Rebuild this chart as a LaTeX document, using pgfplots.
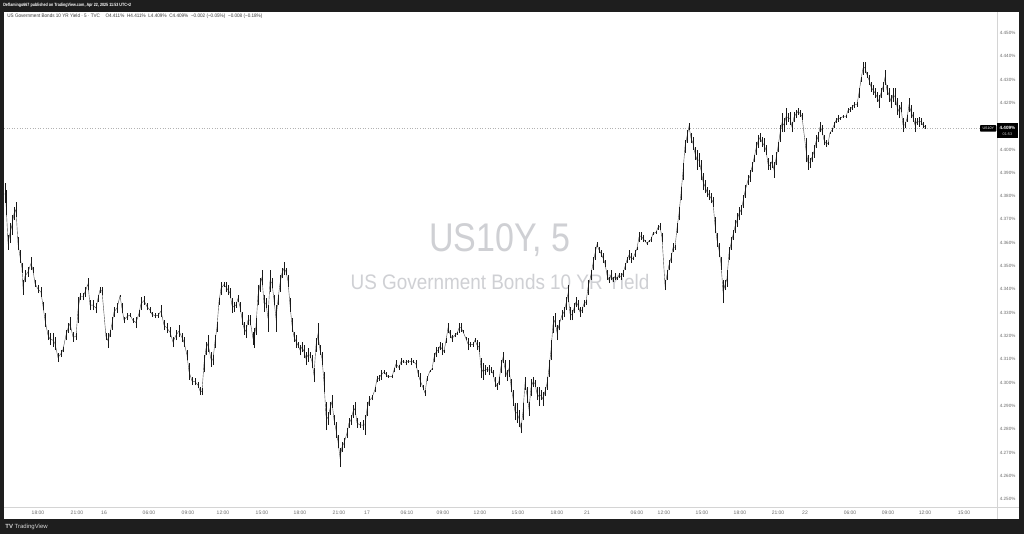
\documentclass[border=0pt]{standalone}
\usepackage{fontspec}
\setmainfont{Liberation Sans}
\usepackage{pgfplots}
\pgfplotsset{compat=1.18}
\usepackage{pgfplotstable}
\definecolor{frame}{HTML}{1E1E1E}
\definecolor{wm}{HTML}{CFD0D4}
\definecolor{axline}{HTML}{D4D4D4}
\definecolor{lbl}{HTML}{6A6A6A}
\definecolor{legtxt}{HTML}{3A3A3A}

% 5-minute bars, x = bar position on the compressed time scale, lo/high in %
\pgfplotstableread{
x lo hi
5 4.3770 4.3856
6 4.3719 4.3826
8 4.3569 4.3633
10 4.3598 4.3684
12 4.3633 4.3719
14 4.3697 4.3753
16 4.3710 4.3775
18 4.3569 4.3624
20 4.3513 4.3569
22 4.3470 4.3513
23 4.3376 4.3440
25 4.3431 4.3483
28 4.3453 4.3496
31 4.3483 4.3539
33 4.3470 4.3496
35 4.3410 4.3440
38 4.3384 4.3418
41 4.3367 4.3410
43 4.3311 4.3346
45 4.3238 4.3298
48 4.3182 4.3225
50 4.3161 4.3212
53 4.3152 4.3212
55 4.3139 4.3195
58 4.3088 4.3127
61 4.3109 4.3139
63 4.3131 4.3152
66 4.3182 4.3225
68 4.3212 4.3255
70 4.3225 4.3281
73 4.3174 4.3217
76 4.3182 4.3212
78 4.3255 4.3367
80 4.3354 4.3384
83 4.3354 4.3384
85 4.3367 4.3410
88 4.3397 4.3449
90 4.3311 4.3354
93 4.3311 4.3354
96 4.3298 4.3341
98 4.3346 4.3376
100 4.3384 4.3410
102 4.3376 4.3410
106 4.3182 4.3212
108 4.3148 4.3212
110 4.3195 4.3225
112 4.3225 4.3281
114 4.3281 4.3324
117 4.3298 4.3341
120 4.3367 4.3376
122 4.3298 4.3341
124 4.3255 4.3281
127 4.3268 4.3298
130 4.3281 4.3298
133 4.3255 4.3277
136 4.3234 4.3281
139 4.3281 4.3311
141 4.3311 4.3367
144 4.3333 4.3371
147 4.3311 4.3341
150 4.3298 4.3324
152 4.3281 4.3303
155 4.3277 4.3298
158 4.3277 4.3298
161 4.3281 4.3333
164 4.3225 4.3268
167 4.3212 4.3255
170 4.3195 4.3238
173 4.3152 4.3195
176 4.3182 4.3225
179 4.3195 4.3247
182 4.3174 4.3212
184 4.3152 4.3195
187 4.3097 4.3139
189 4.3011 4.3084
192 4.2989 4.3024
195 4.2989 4.3019
198 4.2976 4.3002
200 4.2946 4.2981
202 4.2946 4.2976
204 4.3045 4.3118
206 4.3118 4.3174
208 4.3131 4.3204
211 4.3067 4.3131
213 4.3075 4.3118
215 4.3148 4.3204
217 4.3217 4.3260
219 4.3333 4.3363
221 4.3376 4.3431
224 4.3410 4.3431
226 4.3388 4.3431
228 4.3376 4.3418
230 4.3363 4.3406
232 4.3298 4.3363
234 4.3303 4.3346
236 4.3320 4.3346
238 4.3346 4.3376
240 4.3303 4.3346
242 4.3247 4.3303
244 4.3204 4.3260
246 4.3191 4.3247
248 4.3247 4.3290
250 4.3247 4.3290
253 4.3161 4.3217
254 4.3148 4.3234
256 4.3204 4.3277
258 4.3333 4.3418
260 4.3389 4.3449
262 4.3418 4.3483
264 4.3303 4.3376
266 4.3320 4.3363
268 4.3217 4.3333
270 4.3389 4.3483
272 4.3406 4.3449
274 4.3333 4.3376
276 4.3217 4.3333
278 4.3333 4.3376
280 4.3389 4.3461
282 4.3449 4.3491
284 4.3461 4.3517
286 4.3461 4.3491
288 4.3410 4.3461
290 4.3303 4.3363
292 4.3217 4.3277
294 4.3174 4.3217
296 4.3148 4.3204
298 4.3148 4.3174
300 4.3118 4.3161
302 4.3131 4.3174
304 4.3105 4.3161
306 4.3075 4.3131
308 4.3088 4.3148
310 4.3105 4.3131
312 4.3062 4.3118
314 4.3002 4.3062
316 4.3131 4.3191
318 4.3161 4.3255
320 4.3118 4.3161
322 4.3075 4.3131
324 4.2959 4.3045
326 4.2796 4.2916
328 4.2818 4.2873
330 4.2861 4.2916
332 4.2891 4.2946
334 4.2818 4.2861
336 4.2762 4.2831
338 4.2719 4.2775
340 4.2637 4.2719
342 4.2702 4.2745
344 4.2719 4.2762
347 4.2762 4.2805
349 4.2805 4.2848
351 4.2818 4.2861
353 4.2848 4.2903
355 4.2861 4.2916
357 4.2805 4.2848
360 4.2805 4.2831
363 4.2796 4.2839
365 4.2775 4.2861
367 4.2856 4.2916
369 4.2899 4.2942
372 4.2925 4.2946
375 4.2959 4.2981
377 4.3002 4.3028
379 4.3006 4.3032
381 4.3011 4.3054
384 4.3037 4.3054
386 4.3024 4.3045
388 4.3019 4.3032
392 4.3019 4.3032
394 4.3045 4.3062
396 4.3062 4.3097
399 4.3054 4.3075
401 4.3075 4.3105
403 4.3084 4.3097
406 4.3075 4.3097
408 4.3084 4.3097
411 4.3075 4.3105
413 4.3084 4.3097
416 4.3062 4.3097
418 4.3024 4.3054
420 4.2981 4.3041
423 4.2968 4.2989
425 4.2942 4.2968
427 4.3006 4.3028
430 4.3045 4.3054
432 4.3054 4.3062
434 4.3088 4.3127
436 4.3109 4.3152
438 4.3127 4.3152
440 4.3139 4.3174
442 4.3118 4.3170
444 4.3127 4.3139
446 4.3170 4.3191
448 4.3212 4.3255
450 4.3191 4.3225
452 4.3174 4.3204
455 4.3195 4.3212
457 4.3204 4.3217
459 4.3212 4.3255
461 4.3217 4.3255
463 4.3212 4.3225
466 4.3182 4.3195
468 4.3139 4.3191
470 4.3152 4.3174
473 4.3152 4.3174
475 4.3174 4.3191
477 4.3139 4.3182
479 4.3131 4.3174
481 4.3019 4.3105
483 4.3011 4.3084
485 4.3032 4.3075
487 4.3045 4.3067
489 4.3032 4.3075
491 4.3041 4.3067
493 4.3024 4.3054
495 4.2981 4.3024
497 4.2968 4.2998
499 4.2989 4.3024
501 4.3041 4.3097
503 4.3084 4.3131
505 4.3024 4.3097
507 4.3006 4.3054
509 4.3024 4.3097
511 4.2959 4.3015
513 4.2899 4.2968
515 4.2839 4.2912
517 4.2826 4.2912
519 4.2809 4.2882
521 4.2783 4.2826
523 4.2839 4.2912
525 4.2968 4.3024
527 4.2912 4.2981
529 4.2856 4.2916
531 4.2942 4.3015
533 4.2981 4.3024
535 4.2981 4.3011
537 4.2925 4.2981
539 4.2899 4.2981
541 4.2925 4.2968
543 4.2899 4.2959
545 4.2942 4.2981
547 4.2968 4.3024
549 4.3024 4.3097
551 4.3097 4.3182
553 4.3212 4.3285
555 4.3238 4.3298
557 4.3182 4.3247
559 4.3225 4.3268
562 4.3268 4.3311
564 4.3281 4.3324
566 4.3311 4.3367
568 4.3346 4.3418
570 4.3268 4.3324
572 4.3268 4.3311
574 4.3298 4.3341
576 4.3324 4.3367
578 4.3311 4.3354
580 4.3281 4.3324
582 4.3298 4.3324
584 4.3324 4.3354
586 4.3333 4.3354
588 4.3376 4.3440
591 4.3440 4.3483
593 4.3483 4.3539
595 4.3526 4.3582
597 4.3582 4.3603
599 4.3556 4.3582
601 4.3539 4.3569
603 4.3513 4.3556
605 4.3496 4.3526
607 4.3440 4.3483
609 4.3427 4.3453
611 4.3440 4.3483
613 4.3431 4.3453
615 4.3440 4.3470
617 4.3440 4.3453
619 4.3449 4.3470
621 4.3440 4.3470
623 4.3453 4.3483
625 4.3483 4.3513
627 4.3513 4.3539
629 4.3526 4.3569
631 4.3513 4.3556
633 4.3526 4.3539
635 4.3539 4.3569
637 4.3569 4.3582
639 4.3603 4.3646
641 4.3612 4.3646
643 4.3603 4.3633
645 4.3603 4.3612
647 4.3590 4.3603
649 4.3603 4.3612
651 4.3603 4.3624
653 4.3633 4.3646
656 4.3638 4.3650
658 4.3655 4.3676
660 4.3655 4.3684
662 4.3603 4.3642
665 4.3397 4.3440
667 4.3440 4.3483
669 4.3483 4.3526
671 4.3513 4.3556
673 4.3560 4.3599
675 4.3569 4.3590
677 4.3642 4.3684
679 4.3697 4.3753
681 4.3783 4.3839
683 4.3869 4.3942
685 4.3985 4.4041
687 4.4028 4.4084
689 4.4084 4.4114
691 4.4028 4.4071
693 4.3998 4.4054
695 4.3955 4.4011
697 4.3912 4.3998
699 4.3925 4.3985
701 4.3869 4.3955
703 4.3826 4.3899
705 4.3813 4.3869
707 4.3796 4.3839
709 4.3783 4.3826
711 4.3770 4.3813
713 4.3753 4.3796
715 4.3642 4.3710
717 4.3582 4.3642
719 4.3539 4.3599
721 4.3483 4.3539
723 4.3341 4.3440
725 4.3397 4.3440
727 4.3410 4.3483
729 4.3526 4.3582
731 4.3569 4.3624
733 4.3612 4.3655
735 4.3642 4.3697
737 4.3667 4.3727
739 4.3697 4.3753
741 4.3719 4.3762
743 4.3749 4.3805
745 4.3792 4.3848
748 4.3848 4.3891
750 4.3861 4.3912
752 4.3904 4.3947
754 4.3947 4.3976
756 4.3976 4.4032
758 4.4006 4.4062
760 4.4032 4.4071
762 4.4011 4.4054
764 4.3989 4.4049
766 4.3976 4.4019
768 4.3912 4.3964
770 4.3912 4.3947
772 4.3921 4.3976
774 4.3878 4.3947
776 4.3933 4.3989
778 4.3989 4.4032
780 4.4032 4.4105
782 4.4075 4.4157
784 4.4075 4.4135
786 4.4105 4.4178
788 4.4118 4.4157
790 4.4105 4.4161
792 4.4075 4.4118
794 4.4118 4.4161
796 4.4135 4.4170
798 4.4148 4.4178
800 4.4140 4.4170
802 4.4127 4.4157
806 4.3946 4.4049
808 4.3912 4.3976
810 4.3921 4.3964
812 4.3946 4.3989
814 4.3964 4.4019
816 4.4006 4.4062
818 4.4032 4.4075
820 4.4075 4.4118
822 4.4062 4.4105
824 4.4019 4.4062
826 4.4011 4.4041
828 4.4019 4.4032
830 4.4067 4.4075
832 4.4075 4.4092
834 4.4092 4.4118
836 4.4114 4.4135
838 4.4118 4.4148
840 4.4127 4.4140
843 4.4135 4.4148
846 4.4135 4.4148
848 4.4157 4.4178
850 4.4161 4.4183
852 4.4170 4.4191
854 4.4178 4.4204
857 4.4183 4.4204
859 4.4221 4.4264
861 4.4290 4.4311
863 4.4320 4.4376
865 4.4328 4.4376
867 4.4307 4.4333
869 4.4277 4.4320
871 4.4247 4.4290
873 4.4234 4.4277
875 4.4221 4.4264
877 4.4204 4.4247
879 4.4178 4.4234
881 4.4221 4.4264
883 4.4247 4.4290
885 4.4277 4.4341
887 4.4234 4.4277
889 4.4204 4.4264
891 4.4178 4.4234
893 4.4204 4.4264
895 4.4191 4.4264
897 4.4148 4.4221
899 4.4135 4.4191
901 4.4161 4.4204
903 4.4075 4.4135
905 4.4092 4.4118
907 4.4118 4.4148
909 4.4161 4.4221
911 4.4135 4.4191
913 4.4118 4.4161
915 4.4075 4.4135
917 4.4105 4.4135
919 4.4097 4.4140
921 4.4105 4.4135
923 4.4092 4.4118
925 4.4088 4.4105
}\bars

\begin{document}
\begin{tikzpicture}
% frame and panel
\fill[frame] (0,0) rectangle (512pt,267pt);
\fill[white] (2pt,7.5pt) rectangle (509.5pt,261pt);
\node[anchor=west, inner sep=0, text=white, font=\fontsize{2.3}{2.6}\selectfont\bfseries, xscale=0.8]
  at (1.5pt,264.2pt) {Deflamingo667 published on TradingView.com, Apr 22, 2025 11:53 UTC+2};
\node[anchor=west, inner sep=0, text=white!85!black, font=\fontsize{3}{3.5}\selectfont]
  at (2.5pt,3.6pt) {\textbf{TV}\hspace{0.8pt}TradingView};
\node[anchor=west, inner sep=0, text=legtxt, font=\fontsize{2.5}{3}\selectfont, xscale=0.92]
  at (3.5pt,258.8pt) {US Government Bonds 10 YR Yield · 5 · TVC\hspace{3pt}O4.411\%\hspace{1.5pt}H4.411\%\hspace{1.5pt}L4.409\%\hspace{1.5pt}C4.409\%\hspace{1.5pt}−0.002 (−0.05\%)\hspace{1.5pt}−0.008 (−0.18\%)};

% watermark
\node[text=wm, font=\fontsize{20}{22}\selectfont, xscale=0.85] at (250pt,147pt) {US10Y, 5};
\node[text=wm, font=\fontsize{10.5}{12}\selectfont, xscale=0.9] at (250pt,126pt) {US Government Bonds 10 YR Yield};

\begin{axis}[
    at={(2pt,13.5pt)}, anchor=south west,
    scale only axis, width=496.5pt, height=247.5pt,
    xmin=4, xmax=997, ymin=4.2466, ymax=4.4590,
    axis line style={draw=none},
    major tick length=0pt,
    xtick={38,77,104,149,188,223,262,300,339,367,407,443,480,518,557,587,637,664,702,740,778,805,850,888,925,964},
    xticklabels={18:00,21:00,16,06:00,09:00,12:00,15:00,18:00,21:00,17,06:10,09:00,12:00,15:00,18:00,21,06:00,12:00,15:00,18:00,21:00,22,06:00,09:00,12:00,15:00},
    xticklabel style={font=\fontsize{2.5}{3}\selectfont, text=lbl, anchor=center, yshift=-3pt},
    ytick={4.25,4.26,4.27,4.28,4.29,4.30,4.31,4.32,4.33,4.34,4.35,4.36,4.37,4.38,4.39,4.40,4.41,4.42,4.43,4.44,4.45},
    yticklabels={4.250\%,4.260\%,4.270\%,4.280\%,4.290\%,4.300\%,4.310\%,4.320\%,4.330\%,4.340\%,4.350\%,4.360\%,4.370\%,4.380\%,4.390\%,4.400\%,,4.420\%,4.430\%,4.440\%,4.450\%},
    yticklabel pos=right,
    yticklabel style={font=\fontsize{2.3}{2.8}\selectfont, text=lbl, anchor=center, xshift=5.3pt},
    clip=true,
]
\addplot[gray!60, densely dotted, line width=0.3pt] coordinates {(4,4.409) (997,4.409)};
\addplot[black!70, line width=0.2pt, mark=none] table[x=x, y expr=(\thisrow{lo}+\thisrow{hi})/2] {\bars};
\addplot[draw=none, mark=none,
    error bars/.cd, y dir=plus, y explicit, error mark=none,
    error bar style={draw=black!90, solid, line width=0.42pt}]
    table[x=x, y=lo, y error expr=\thisrow{hi}-\thisrow{lo}] {\bars};
\end{axis}

% pane separators
\draw[axline, line width=0.4pt] (2pt,13.5pt) -- (509.5pt,13.5pt);
\draw[axline, line width=0.4pt] (498.5pt,7.5pt) -- (498.5pt,261pt);

% last price labels
\fill[black, rounded corners=0.4pt] (490pt,201.2pt) rectangle (498.2pt,204.4pt);
\node[text=white, inner sep=0, font=\fontsize{1.8}{2}\selectfont] at (494.1pt,202.8pt) {US10Y};
\fill[black] (498.5pt,198.2pt) rectangle (509pt,205.3pt);
\node[text=white, inner sep=0, font=\fontsize{2.3}{2.6}\selectfont\bfseries] at (503.7pt,203.2pt) {4.409\%};
\node[text=white!80!black, inner sep=0, font=\fontsize{1.9}{2.2}\selectfont] at (503.7pt,200.1pt) {01:53};
\end{tikzpicture}
\end{document}
